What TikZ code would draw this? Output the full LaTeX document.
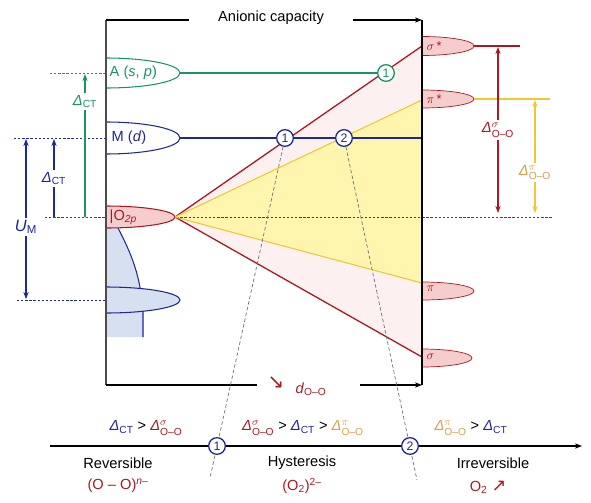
\documentclass[tikz,border=0pt]{standalone}
\usepackage{amsmath}
\usepackage{fontspec}
\setmainfont{Liberation Sans}
\newfontfamily\arrowfont{DejaVu Sans}
\usetikzlibrary{arrows.meta}
\definecolor{agreen}{RGB}{25,150,95}
\definecolor{mblue}{RGB}{30,40,150}
\definecolor{ored}{RGB}{170,25,35}
\definecolor{pyellow}{RGB}{238,200,50}
\definecolor{ptan}{RGB}{215,160,75}
\definecolor{fanpink}{RGB}{252,240,240}
\definecolor{fanyellow}{RGB}{255,245,175}
\definecolor{lobepink}{RGB}{246,205,205}
\definecolor{bandblue}{RGB}{214,224,240}
\newcommand\Dct{\textit{Δ}$_{\text{CT}}$}
\newcommand\Dsig{\textit{Δ}$^{\sigma}_{\text{O–O}}$}
\newcommand\Dpi{\textit{Δ}$^{\pi}_{\text{O–O}}$}
\begin{document}
\begin{tikzpicture}[x=0.03cm, y=-0.03cm, line width=0.9pt,
    every node/.style={font=\fontsize{12.5}{15}\selectfont, inner sep=1pt},
    num/.style={circle, draw, fill=white, line width=1.1pt, minimum size=0.5cm,
      inner sep=0pt, font=\fontsize{10.5}{12}\selectfont},
    level/.style={dash pattern=on 2pt off 1.5pt, line width=0.5pt},
    guide/.style={black!55, dash pattern=on 3pt off 2pt, line width=0.6pt},
    gap/.style={fill=white, inner sep=2pt},
    orb/.style={right, text=ored, font=\fontsize{11}{13}\selectfont},
    tip/.style={-{Stealth[length=6pt, width=4.5pt]}},
    both/.style={{Stealth[length=6pt, width=4.5pt]}-{Stealth[length=6pt, width=4.5pt]}}]
  \useasboundingbox (0,0) rectangle (591,502);

  % frame corners
  \coordinate (TL) at (106,20);
  \coordinate (TR) at (422,20);
  \coordinate (BL) at (106,385);
  \coordinate (BR) at (422,385);

  % lobe tips and fan ends
  \coordinate (Atip) at (180,73);
  \coordinate (Mtip) at (180,138);
  \coordinate (Mend) at (422,138);
  \coordinate (Otip) at (175,217);
  \coordinate (sigS) at (422,46);
  \coordinate (piS) at (422,100);
  \coordinate (piB) at (422,283);
  \coordinate (sigB) at (422,357);

  % fan fills
  \fill[fanpink] (Otip) -- (sigS) -- (sigB) -- cycle;
  \fill[fanyellow] (Otip) -- (piS) -- (piB) -- cycle;

  % dashed levels
  \draw[level, agreen] (50,73) -- (106,73);
  \draw[level, mblue] (14,138) -- (106,138);
  \draw[level, mblue] (17,300) -- (106,300);
  \draw[level, ored] (45,217) -- (553,217);

  % lower band
  \fill[bandblue] (106,228) -- (118,228) .. controls (132,255) and (140,275) .. (143,310)
    -- (143,337) -- (106,337) -- cycle;
  \draw[mblue] (118,228) .. controls (132,255) and (140,275) .. (143,310) -- (143,337);

  % left lobes
  \draw[agreen, fill=white] (106,58) arc[start angle=-90, end angle=90, x radius=74, y radius=15];
  \draw[mblue, fill=white] (106,122) arc[start angle=-90, end angle=90, x radius=74, y radius=16];
  \draw[ored, fill=lobepink] (106,206) arc[start angle=-90, end angle=90, x radius=69, y radius=11];
  \draw[mblue, fill=bandblue] (106,287) arc[start angle=-90, end angle=90, x radius=74, y radius=13];

  % right lobes
  \draw[ored, fill=lobepink, line width=0.6pt] (422,36.5) arc[start angle=-90, end angle=90, x radius=52, y radius=9.5];
  \draw[ored, fill=lobepink, line width=0.6pt] (422,90) arc[start angle=-90, end angle=90, x radius=52, y radius=9];
  \draw[ored, fill=lobepink, line width=0.6pt] (422,282) arc[start angle=-90, end angle=90, x radius=52, y radius=9];
  \draw[ored, fill=lobepink, line width=0.6pt] (422,349) arc[start angle=-90, end angle=90, x radius=50, y radius=9];

  % fan lines
  \draw[ored, line width=1.1pt] (Otip) -- (sigS);
  \draw[ored, line width=1.1pt] (Otip) -- (sigB);
  \draw[pyellow] (Otip) -- (piS);
  \draw[pyellow] (Otip) -- (piB);
  \draw[ored] (474,46) -- (520,46);
  \draw[pyellow] (474,99) -- (550,99);

  % crossing points
  \node[num, draw=agreen, text=agreen] (gA1) at (386,73) {1};
  \node[num, draw=mblue, text=mblue] (bM1) at (285,138) {1};
  \node[num, draw=mblue, text=mblue] (bM2) at (344,138) {2};
  \draw[agreen] (Atip) -- (gA1);
  \draw[mblue] (Mtip) -- (bM1) -- (bM2) -- (Mend);

  % frame
  \draw[black!70, line width=1.1pt] (TL) -- (BL);
  \draw[line width=1.1pt] (TR) -- (BR);
  \draw (TL) -- (189,20);
  \node (cap) at (271,18) {Anionic capacity};
  \draw[tip] (353,20) -- (TR);
  \draw (BL) -- (257,385);
  \node[text=ored, font=\fontsize{17}{19}\selectfont] (dsym) at (276,383) {\arrowfont ↘};
  \node[text=ored] (dOO) at (311,389) {\textit{d}$_{\text{O–O}}$};
  \draw[tip] (360,385) -- (BR);

  % lobe labels
  \node[right, text=agreen] at (108,73) {A (\textit{s}, \textit{p})};
  \node[right, text=mblue] at (110,138) {M (\textit{d})};
  \node[right, text=ored] at (108,217) {|O$_{\text{\itshape 2p}}$};
  \node[orb] at (425,46) {$\sigma$\,*};
  \node[orb] at (425,99) {$\pi$\,*};
  \node[orb] at (425,289) {$\pi$};
  \node[orb] at (425,357) {$\sigma$};

  % gaps
  \draw[both, ored] (498,47) -- (498,213) node[midway, gap] {\Dsig};
  \draw[both, pyellow] (535,100) -- (535,213) node[pos=0.64, gap, text=ptan] {\Dpi};
  \draw[tip, agreen] (85,217) -- (85,74) node[pos=0.81, gap] {\Dct};
  \draw[tip, mblue] (54,217) -- (54,139) node[pos=0.49, gap] {\Dct};
  \draw[both, mblue] (26,139) -- (26,299) node[pos=0.55, gap, font=\fontsize{14}{16}\selectfont] {\textit{U}$_{\text{M}}$};

  % regime axis
  \coordinate (ax0) at (50,446);
  \coordinate (ax1) at (582,446);
  \coordinate (g1) at (210,478);
  \coordinate (g2) at (417,480);
  \draw[tip, line width=1pt] (ax0) -- (ax1);
  \draw[guide] (bM1) -- (g1);
  \draw[guide] (bM2) -- (g2);
  \node[num, draw=mblue, text=mblue] (x1) at (217,446) {1};
  \node[num, draw=mblue, text=mblue] (x2) at (410,446) {2};

  \node at (146,428) {\textcolor{mblue}{\Dct} > \textcolor{ored}{\Dsig}};
  \node at (303,428) {\textcolor{ored}{\Dsig} > \textcolor{mblue}{\Dct} > \textcolor{ptan}{\Dpi}};
  \node at (471,428) {\textcolor{ptan}{\Dpi} > \textcolor{mblue}{\Dct}};

  \node at (118,463) {Reversible};
  \node at (302,463) {Hysteresis};
  \node at (493,463) {Irreversible};
  \node[text=ored] at (118,486) {(O – O)$^{\textit{n}\text{–}}$};
  \node[text=ored] at (302,486) {(O$_{\text{2}}$)$^{\text{2–}}$};
  \node[text=ored] at (488,487) {O$_{\text{2}}$ {\arrowfont\fontsize{15}{17}\selectfont ↗}};
\end{tikzpicture}
\end{document}
